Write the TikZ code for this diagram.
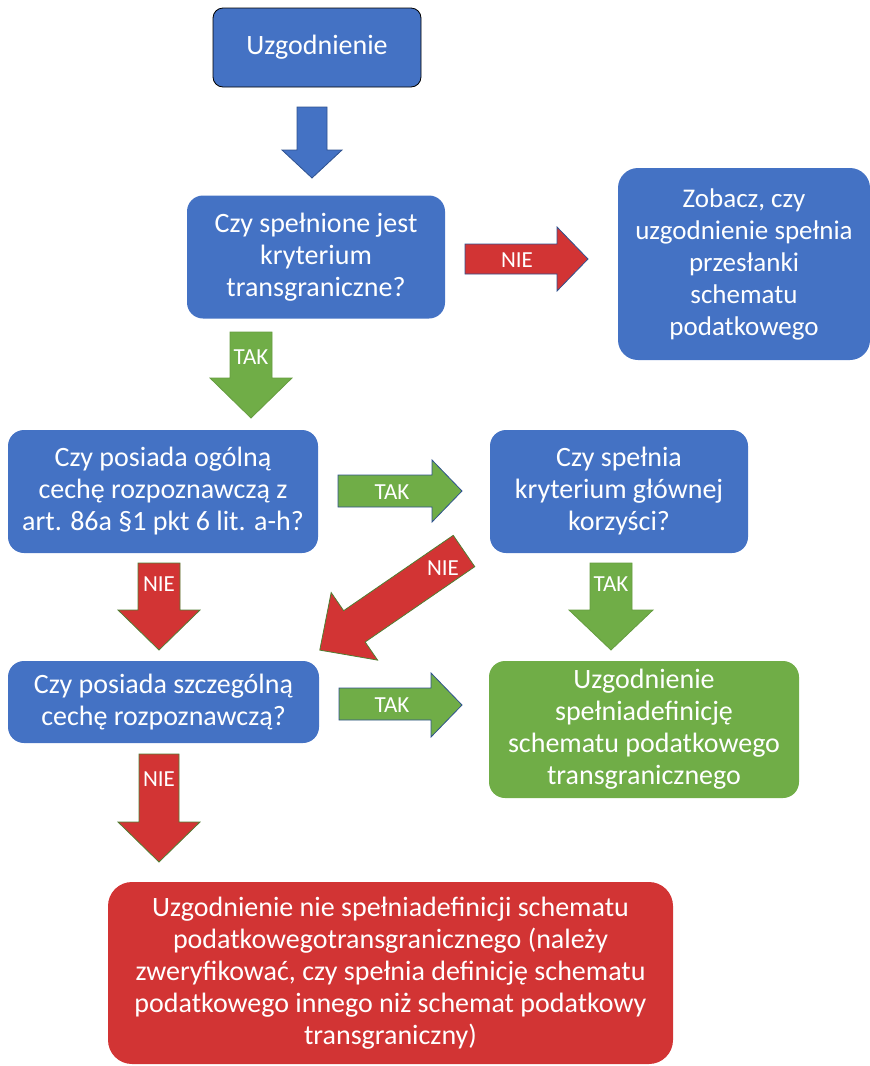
\documentclass[tikz,border=0pt]{standalone}
\usepackage{fontspec}
\setmainfont{Carlito}
\definecolor{oblue}{RGB}{68,114,196}
\definecolor{ored}{RGB}{210,52,52}
\definecolor{ogreen}{RGB}{112,173,71}
\definecolor{bline}{RGB}{47,82,143}
\definecolor{gline}{RGB}{80,126,50}
\tikzset{
  box/.style={rounded corners=#1, inner sep=0pt, align=center, text=white,
    font=\fontsize{28}{32}\selectfont},
  box/.default=16pt,
  lbl/.style={text=white, inner sep=0pt, font=\fontsize{23}{26}\selectfont},
  barrow/.style={line width=0.8pt, line join=miter}
}
\begin{document}
\begin{tikzpicture}[x=1pt,y=-1pt]
\useasboundingbox (0,0) rectangle (870,1066);
% boxes
\node[box=10pt, fill=oblue, draw=black, line width=0.8pt, minimum width=208pt, minimum height=79pt] (b0) at (317,47.5) {Uzgodnienie};
\node[box, fill=oblue, minimum width=258pt, minimum height=123pt] (b1) at (316,257) {Czy spełnione jest\\kryterium\\transgraniczne?};
\node[box=20pt, fill=oblue, minimum width=252pt, minimum height=192pt, font=\fontsize{27}{32}\selectfont] (b2) at (744,264) {Zobacz, czy\\uzgodnienie spełnia\\przesłanki\\schematu\\podatkowego};
\node[box, fill=oblue, minimum width=310pt, minimum height=123pt] (b3) at (163,491.5) {Czy posiada ogólną\\cechę rozpoznawczą z\\art. 86a §1 pkt 6 lit. a-h?};
\node[box, fill=oblue, minimum width=258pt, minimum height=123pt] (b4) at (619,491.5) {Czy spełnia\\kryterium głównej\\korzyści?};
\node[box, fill=oblue, minimum width=311pt, minimum height=82pt] (b5) at (163.5,702) {Czy posiada szczególną\\cechę rozpoznawczą?};
\node[box, fill=ogreen, minimum width=310pt, minimum height=137pt] (b6) at (644,729.5) {Uzgodnienie\\spełniadefinicję\\schematu podatkowego\\transgranicznego};
\node[box=24pt, fill=ored, minimum width=565pt, minimum height=182pt] (b7) at (390.5,973) {Uzgodnienie nie spełniadefinicji schematu\\podatkowegotransgranicznego (należy\\zweryfikować, czy spełnia definicję schematu\\podatkowego innego niż schemat podatkowy\\transgraniczny)};
% block arrows
% b0 -> b1 (blue)
\draw[barrow, fill=oblue, draw=bline] (297,107) -- (327,107) -- (327,150) -- (342,150) -- (312,178) -- (282,150) -- (297,150) -- cycle;
% b1 -> b2 NIE (red, right)
\draw[barrow, fill=ored, draw=bline] (465,244) -- (557,244) -- (557,227) -- (588,259) -- (557,291) -- (557,274) -- (465,274) -- cycle;
\node[lbl] (l1) at (517,260) {NIE};
% b1 -> b3 TAK (green, down)
\draw[barrow, fill=ogreen, draw=ogreen!90!black] (230,332) -- (272,332) -- (272,378) -- (292,378) -- (251,418) -- (210,378) -- (230,378) -- cycle;
\node[lbl] (l2) at (251,357) {TAK};
% b3 -> b4 TAK (green, right)
\draw[barrow, fill=ogreen, draw=bline] (338,475) -- (432,475) -- (432,460) -- (462,491) -- (432,522) -- (432,507) -- (338,507) -- cycle;
\node[lbl] (l3) at (392,492) {TAK};
% b4 -> b6 TAK (green, down)
\draw[barrow, fill=ogreen, draw=ogreen!90!black] (590,563) -- (632,563) -- (632,610) -- (653,610) -- (611,650) -- (569,610) -- (590,610) -- cycle;
\node[lbl] (l4) at (611,584) {TAK};
% b3 -> b5 NIE (red, down)
\draw[barrow, fill=ored, draw=gline] (138,563) -- (180,563) -- (180,610) -- (200,610) -- (159,650) -- (118,610) -- (138,610) -- cycle;
\node[lbl] (l5) at (159,584) {NIE};
% b4 -> b5 NIE (red, diagonal)
\begin{scope}[shift={(464,551)}, rotate=214.5]
\draw[barrow, fill=ored, draw=gline] (0,-19) -- (133,-19) -- (133,-41) -- (175,0) -- (133,41) -- (133,19) -- (0,19) -- cycle;
\end{scope}
\node[lbl] (l6) at (443,568) {NIE};
% b5 -> b6 TAK (green, right)
\draw[barrow, fill=ogreen, draw=bline] (339,688) -- (431,688) -- (431,673) -- (462,705) -- (431,737) -- (431,720) -- (339,720) -- cycle;
\node[lbl] (l7) at (392,705) {TAK};
% b5 -> b7 NIE (red, down)
\draw[barrow, fill=ored, draw=gline] (139,754) -- (179,754) -- (179,822) -- (200,822) -- (159,862) -- (118,822) -- (139,822) -- cycle;
\node[lbl] (l8) at (159,779) {NIE};
\end{tikzpicture}
\end{document}
